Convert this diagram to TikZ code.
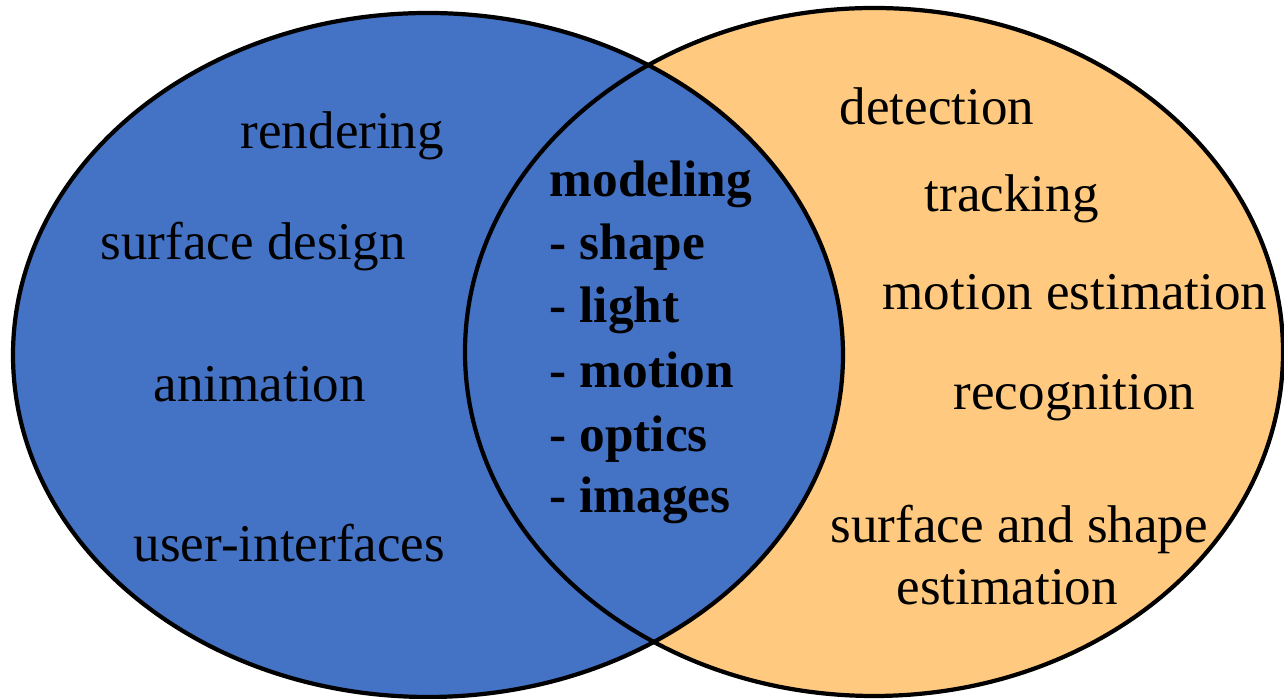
\documentclass[tikz,border=0pt]{standalone}
\usepackage{fontspec}
\setmainfont{Liberation Serif}
\definecolor{setblue}{RGB}{68,114,196}
\definecolor{setorange}{RGB}{255,202,128}
\tikzset{
  topic/.style={anchor=base west, inner sep=0pt, font=\fontsize{15.1}{18}\selectfont},
  shared/.style={topic, font=\fontsize{14.6}{18}\selectfont\bfseries}
}
\begin{document}
\begin{tikzpicture}
\useasboundingbox (0,0) rectangle (12.84,6.99);

% Fill the two sets, graphics on top of vision
\fill[setorange] (8.74,3.47) ellipse [x radius=4.09, y radius=3.44];
\fill[setblue] (4.28,3.44) ellipse [x radius=4.15, y radius=3.42];
\draw[line width=1.2pt] (8.74,3.47) ellipse [x radius=4.09, y radius=3.44];
\draw[line width=1.2pt] (4.28,3.44) ellipse [x radius=4.15, y radius=3.42];

% Graphics side
\node[topic] (rendering) at (2.40, 5.50) {rendering};
\node[topic] (surfdesign) at (1.00, 4.39) {surface design};
\node[topic] (animation) at (1.53, 2.97) {animation};
\node[topic] (userif) at (1.33, 1.37) {user-interfaces};

% Overlap
\node[shared] (modeling) at (5.49, 5.02) {modeling};
\node[shared] (shape) at (5.49, 4.39) {- shape};
\node[shared] (light) at (5.49, 3.76) {- light};
\node[shared] (motion) at (5.49, 3.11) {- motion};
\node[shared] (optics) at (5.49, 2.47) {- optics};
\node[shared] (images) at (5.49, 1.86) {- images};

% Vision side
\node[topic] (detection) at (8.39, 5.74) {detection};
\node[topic] (tracking) at (9.24, 4.87) {tracking};
\node[topic] (motionest) at (8.82, 3.89) {motion estimation};
\node[topic] (recognition) at (9.53, 2.89) {recognition};
\node[topic] (surfshape) at (8.30, 1.56) {surface and shape};
\node[topic] (estimation) at (8.96, 0.94) {estimation};
\end{tikzpicture}
\end{document}
